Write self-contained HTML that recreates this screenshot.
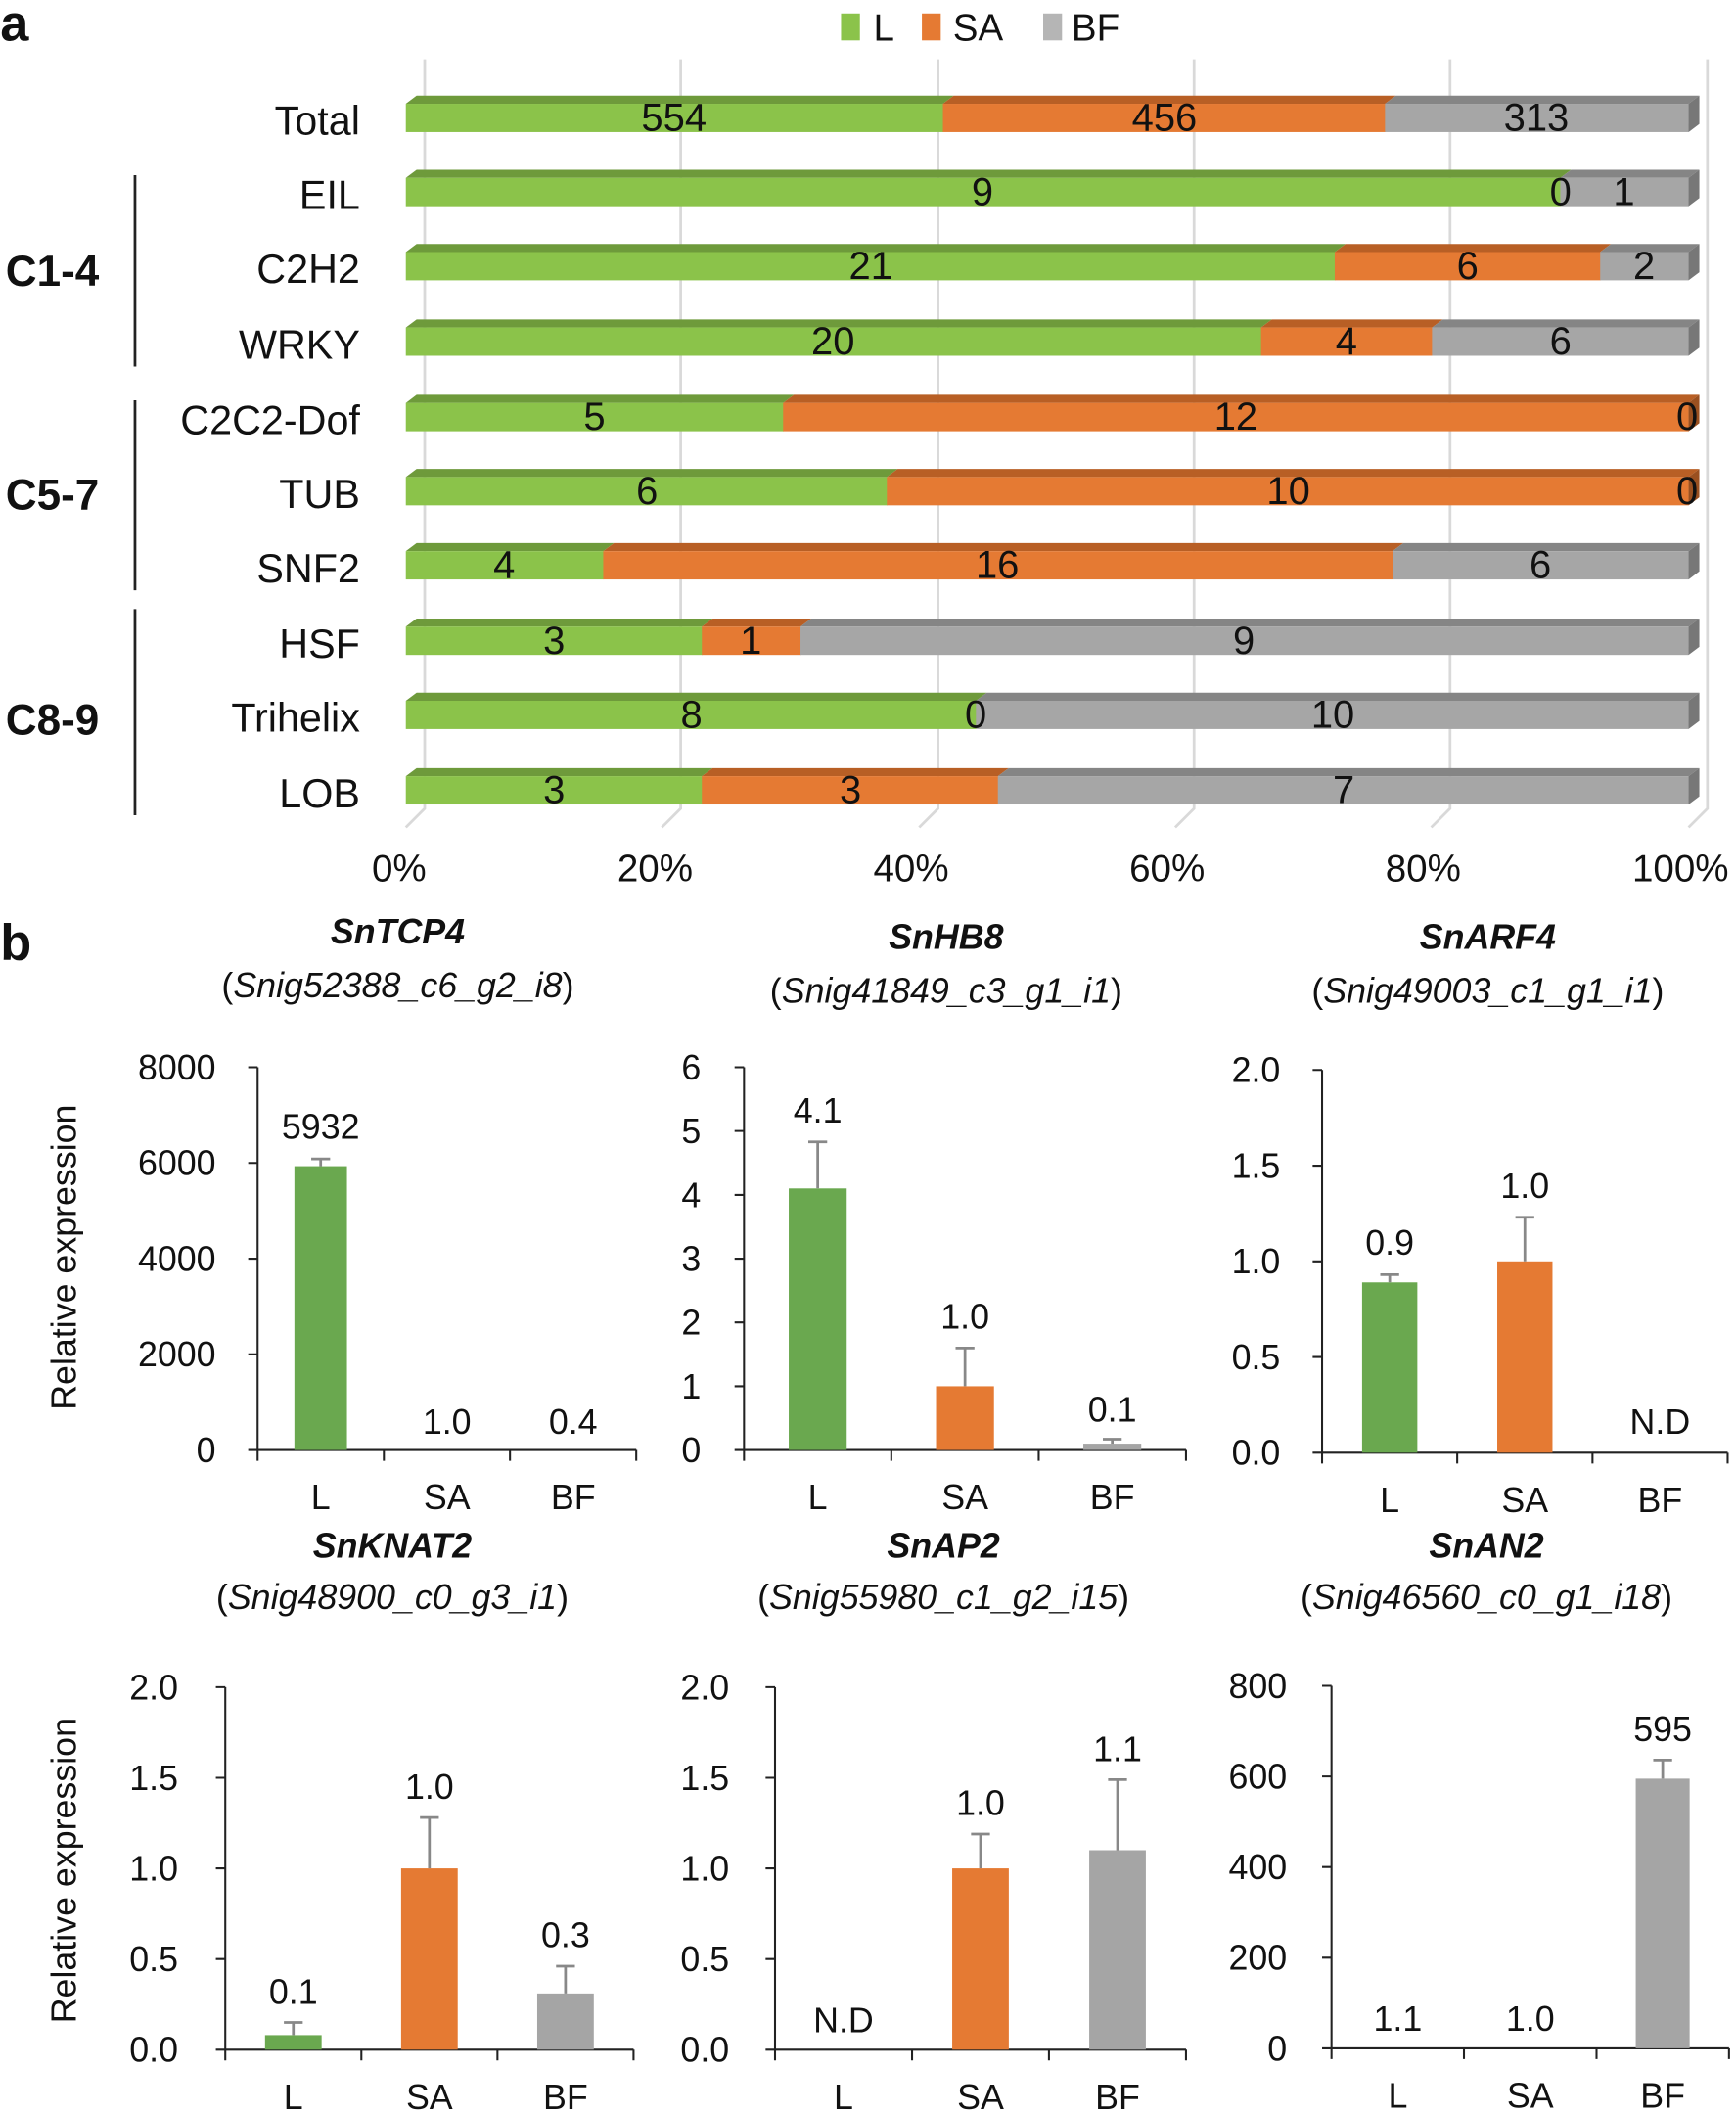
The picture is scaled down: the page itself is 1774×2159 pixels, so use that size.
<!DOCTYPE html>
<html><head><meta charset="utf-8"><style>
html,body{margin:0;padding:0;background:#fff}
svg{display:block}
text{font-family:"Liberation Sans",Arial,sans-serif;fill:#111}
</style></head><body>
<svg width="1774" height="2159" viewBox="0 0 1288 1568" xmlns="http://www.w3.org/2000/svg">
<text x="0" y="30" font-size="38" font-weight="bold">a</text>
<rect x="624" y="10" width="14" height="20" fill="#8bc34a"/><text x="648" y="30" font-size="28">L</text>
<rect x="684" y="10" width="14" height="20" fill="#e57a33"/><text x="707" y="30" font-size="28">SA</text>
<rect x="774" y="10" width="14" height="20" fill="#b5b5b5"/><text x="795" y="30" font-size="28">BF</text>
<g stroke="#d9d9d9" stroke-width="2" fill="none">
<path d="M315,44V600L301,614"/><path d="M505,44V600L491,614"/><path d="M696,44V600L682,614"/><path d="M886,44V600L872,614"/><path d="M1076,44V600L1062,614"/><path d="M1267,44V600L1253,614"/>
</g>
<g font-size="28" text-anchor="middle">
<text x="296" y="654">0%</text><text x="486" y="654">20%</text><text x="676" y="654">40%</text><text x="866" y="654">60%</text><text x="1056" y="654">80%</text><text x="1247" y="654">100%</text>
</g>

<defs>
<polygon id="cap" points="0,0 8,-6 8,15 0,21" fill="#777"/>
</defs>
<g font-size="29" text-anchor="middle">
<g transform="translate(0,77)">
<polygon points="301,0 309,-6 707.6,-6 699.6,0" fill="#6e9a3b"/><rect x="301" y="0" width="399" height="21" fill="#8bc34a"/>
<polygon points="699.6,0 707.6,-6 1035.7,-6 1027.7,0" fill="#b85f25"/><rect x="699.6" y="0" width="328.6" height="21" fill="#e57a33"/>
<polygon points="1027.7,0 1035.7,-6 1261,-6 1253,0" fill="#858585"/><rect x="1027.7" y="0" width="225.3" height="21" fill="#a6a6a6"/>
<use href="#cap" x="1253"/>
<text x="500" y="20">554</text><text x="864" y="20">456</text><text x="1140" y="20">313</text>
</g>
<g transform="translate(0,132)">
<polygon points="301,0 309,-6 1165.8,-6 1157.8,0" fill="#6e9a3b"/><rect x="301" y="0" width="857.3" height="21" fill="#8bc34a"/>
<polygon points="1157.8,0 1165.8,-6 1261,-6 1253,0" fill="#858585"/><rect x="1157.8" y="0" width="95.2" height="21" fill="#a6a6a6"/>
<use href="#cap" x="1253"/>
<text x="729" y="20">9</text><text x="1158" y="20">0</text><text x="1205" y="20">1</text>
</g>
<g transform="translate(0,187)">
<polygon points="301,0 309,-6 998.4,-6 990.4,0" fill="#6e9a3b"/><rect x="301" y="0" width="689.9" height="21" fill="#8bc34a"/>
<polygon points="990.4,0 998.4,-6 1195.4,-6 1187.4,0" fill="#b85f25"/><rect x="990.4" y="0" width="197.5" height="21" fill="#e57a33"/>
<polygon points="1187.4,0 1195.4,-6 1261,-6 1253,0" fill="#858585"/><rect x="1187.4" y="0" width="65.6" height="21" fill="#a6a6a6"/>
<use href="#cap" x="1253"/>
<text x="646" y="20">21</text><text x="1089" y="20">6</text><text x="1220" y="20">2</text>
</g>
<g transform="translate(0,243)">
<polygon points="301,0 309,-6 943.7,-6 935.7,0" fill="#6e9a3b"/><rect x="301" y="0" width="635.2" height="21" fill="#8bc34a"/>
<polygon points="935.7,0 943.7,-6 1070.6,-6 1062.6,0" fill="#b85f25"/><rect x="935.7" y="0" width="127.4" height="21" fill="#e57a33"/>
<polygon points="1062.6,0 1070.6,-6 1261,-6 1253,0" fill="#858585"/><rect x="1062.6" y="0" width="190.4" height="21" fill="#a6a6a6"/>
<use href="#cap" x="1253"/>
<text x="618" y="20">20</text><text x="999" y="20">4</text><text x="1158" y="20">6</text>
</g>
<g transform="translate(0,299)">
<polygon points="301,0 309,-6 589,-6 581,0" fill="#6e9a3b"/><rect x="301" y="0" width="280.5" height="21" fill="#8bc34a"/>
<polygon points="581,0 589,-6 1261,-6 1253,0" fill="#b85f25"/><rect x="581" y="0" width="672" height="21" fill="#e57a33"/>
<polygon points="1253,0 1261,-6 1261,15 1253,21" fill="#9a5020"/>
<text x="441" y="20">5</text><text x="917" y="20">12</text><text x="1252" y="20">0</text>
</g>
<g transform="translate(0,354)">
<polygon points="301,0 309,-6 666,-6 658,0" fill="#6e9a3b"/><rect x="301" y="0" width="357.5" height="21" fill="#8bc34a"/>
<polygon points="658,0 666,-6 1261,-6 1253,0" fill="#b85f25"/><rect x="658" y="0" width="595" height="21" fill="#e57a33"/>
<polygon points="1253,0 1261,-6 1261,15 1253,21" fill="#9a5020"/>
<text x="480" y="20">6</text><text x="956" y="20">10</text><text x="1252" y="20">0</text>
</g>
<g transform="translate(0,409)">
<polygon points="301,0 309,-6 455.5,-6 447.5,0" fill="#6e9a3b"/><rect x="301" y="0" width="147" height="21" fill="#8bc34a"/>
<polygon points="447.5,0 455.5,-6 1041.3,-6 1033.3,0" fill="#b85f25"/><rect x="447.5" y="0" width="586.3" height="21" fill="#e57a33"/>
<polygon points="1033.3,0 1041.3,-6 1261,-6 1253,0" fill="#858585"/><rect x="1033.3" y="0" width="219.7" height="21" fill="#a6a6a6"/>
<use href="#cap" x="1253"/>
<text x="374" y="20">4</text><text x="740" y="20">16</text><text x="1143" y="20">6</text>
</g>
<g transform="translate(0,465)">
<polygon points="301,0 309,-6 528.7,-6 520.7,0" fill="#6e9a3b"/><rect x="301" y="0" width="220.2" height="21" fill="#8bc34a"/>
<polygon points="520.7,0 528.7,-6 601.9,-6 593.9,0" fill="#b85f25"/><rect x="520.7" y="0" width="73.7" height="21" fill="#e57a33"/>
<polygon points="593.9,0 601.9,-6 1261,-6 1253,0" fill="#858585"/><rect x="593.9" y="0" width="659.1" height="21" fill="#a6a6a6"/>
<use href="#cap" x="1253"/>
<text x="411" y="20">3</text><text x="557" y="20">1</text><text x="923" y="20">9</text>
</g>
<g transform="translate(0,520)">
<polygon points="301,0 309,-6 732.1,-6 724.1,0" fill="#6e9a3b"/><rect x="301" y="0" width="423.6" height="21" fill="#8bc34a"/>
<polygon points="724.1,0 732.1,-6 1261,-6 1253,0" fill="#858585"/><rect x="724.1" y="0" width="528.9" height="21" fill="#a6a6a6"/>
<use href="#cap" x="1253"/>
<text x="513" y="20">8</text><text x="724" y="20">0</text><text x="989" y="20">10</text>
</g>
<g transform="translate(0,576)">
<polygon points="301,0 309,-6 528.7,-6 520.7,0" fill="#6e9a3b"/><rect x="301" y="0" width="220.2" height="21" fill="#8bc34a"/>
<polygon points="520.7,0 528.7,-6 748.4,-6 740.4,0" fill="#b85f25"/><rect x="520.7" y="0" width="220.2" height="21" fill="#e57a33"/>
<polygon points="740.4,0 748.4,-6 1261,-6 1253,0" fill="#858585"/><rect x="740.4" y="0" width="512.6" height="21" fill="#a6a6a6"/>
<use href="#cap" x="1253"/>
<text x="411" y="20">3</text><text x="631" y="20">3</text><text x="997" y="20">7</text>
</g>
</g>

<g font-size="30" text-anchor="end">
<text x="267" y="100">Total</text><text x="267" y="155">EIL</text><text x="267" y="210">C2H2</text><text x="267" y="266">WRKY</text><text x="267" y="322">C2C2-Dof</text><text x="267" y="377">TUB</text><text x="267" y="432">SNF2</text><text x="267" y="488">HSF</text><text x="267" y="543">Trihelix</text><text x="267" y="599">LOB</text>
</g>
<g font-size="32" font-weight="bold"><text x="4" y="212">C1-4</text><text x="4" y="378">C5-7</text><text x="4" y="545">C8-9</text></g>
<g stroke="#222" stroke-width="2"><line x1="100" y1="130" x2="100" y2="272"/><line x1="100" y1="297" x2="100" y2="438"/><line x1="100" y1="452" x2="100" y2="605"/></g>

<text x="0" y="712" font-size="38" font-weight="bold">b</text>
<g font-size="26" text-anchor="middle">
<text x="295" y="700" font-weight="bold" font-style="italic">SnTCP4</text>
<text x="295" y="740">(<tspan font-style="italic">Snig52388_c6_g2_i8</tspan>)</text>
<text x="702" y="704" font-weight="bold" font-style="italic">SnHB8</text>
<text x="702" y="744">(<tspan font-style="italic">Snig41849_c3_g1_i1</tspan>)</text>
<text x="1104" y="704" font-weight="bold" font-style="italic">SnARF4</text>
<text x="1104" y="744">(<tspan font-style="italic">Snig49003_c1_g1_i1</tspan>)</text>
<text x="291" y="1156" font-weight="bold" font-style="italic">SnKNAT2</text>
<text x="291" y="1194">(<tspan font-style="italic">Snig48900_c0_g3_i1</tspan>)</text>
<text x="700" y="1156" font-weight="bold" font-style="italic">SnAP2</text>
<text x="700" y="1194">(<tspan font-style="italic">Snig55980_c1_g2_i15</tspan>)</text>
<text x="1103" y="1156" font-weight="bold" font-style="italic">SnAN2</text>
<text x="1103" y="1194">(<tspan font-style="italic">Snig46560_c0_g1_i18</tspan>)</text>
</g>
<text transform="translate(56,933) rotate(-90)" font-size="26" text-anchor="middle">Relative expression</text>
<text transform="translate(56,1388) rotate(-90)" font-size="26" text-anchor="middle">Relative expression</text>

<g stroke="#222" stroke-width="1.5" fill="none">
<path d="M191,792V1084M191,1076H472M284.7,1076v8M378.3,1076v8M472,1076v8M184,1076h7M184,1005h7M184,934h7M184,863h7M184,792h7"/>
<path d="M552,792V1084M552,1076H880M661.3,1076v8M770.7,1076v8M880,1076v8M545,1076h7M545,1028.7h7M545,981.3h7M545,934h7M545,886.7h7M545,839.3h7M545,792h7"/>
<path d="M981,794V1086M981,1078H1282M1081.3,1078v8M1181.7,1078v8M1282,1078v8M974,1078h7M974,1007h7M974,936h7M974,865h7M974,794h7"/>
<path d="M167,1252V1529M167,1521H470M268,1521v8M369,1521v8M470,1521v8M160,1521h7M160,1453.75h7M160,1386.5h7M160,1319.25h7M160,1252h7"/>
<path d="M575,1252V1529M575,1521H880M676.7,1521v8M778.3,1521v8M880,1521v8M568,1521h7M568,1453.75h7M568,1386.5h7M568,1319.25h7M568,1252h7"/>
<path d="M988,1251V1528M988,1520H1283M1086.3,1520v8M1184.7,1520v8M1283,1520v8M981,1520h7M981,1452.75h7M981,1385.5h7M981,1318.25h7M981,1251h7"/>
</g>

<g font-size="26" text-anchor="end">
<text x="160" y="1085">0</text><text x="160" y="1014">2000</text><text x="160" y="943">4000</text><text x="160" y="872">6000</text><text x="160" y="801">8000</text>
<text x="520" y="1085">0</text><text x="520" y="1037.7">1</text><text x="520" y="990.3">2</text><text x="520" y="943">3</text><text x="520" y="895.7">4</text><text x="520" y="848.3">5</text><text x="520" y="801">6</text>
<text x="950" y="1087">0.0</text><text x="950" y="1016">0.5</text><text x="950" y="945">1.0</text><text x="950" y="874">1.5</text><text x="950" y="803">2.0</text>
<text x="132" y="1530">0.0</text><text x="132" y="1462.75">0.5</text><text x="132" y="1395.5">1.0</text><text x="132" y="1328.25">1.5</text><text x="132" y="1261">2.0</text>
<text x="541" y="1530">0.0</text><text x="541" y="1462.75">0.5</text><text x="541" y="1395.5">1.0</text><text x="541" y="1328.25">1.5</text><text x="541" y="1261">2.0</text>
<text x="955" y="1529">0</text><text x="955" y="1461.75">200</text><text x="955" y="1394.5">400</text><text x="955" y="1327.25">600</text><text x="955" y="1260">800</text>
</g>

<g font-size="26" text-anchor="middle">
<text x="237.8" y="1120">L</text><text x="331.5" y="1120">SA</text><text x="425.2" y="1120">BF</text>
<text x="606.7" y="1120">L</text><text x="716" y="1120">SA</text><text x="825.3" y="1120">BF</text>
<text x="1031.2" y="1122">L</text><text x="1131.5" y="1122">SA</text><text x="1231.8" y="1122">BF</text>
<text x="217.5" y="1565">L</text><text x="318.5" y="1565">SA</text><text x="419.5" y="1565">BF</text>
<text x="625.8" y="1565">L</text><text x="727.5" y="1565">SA</text><text x="829.2" y="1565">BF</text>
<text x="1037.2" y="1564">L</text><text x="1135.5" y="1564">SA</text><text x="1233.8" y="1564">BF</text>
</g>

<rect x="218.3" y="865.4" width="39" height="210.6" fill="#6aa84f"/>
<rect x="585.2" y="881.9" width="43" height="194.1" fill="#6aa84f"/>
<rect x="694.5" y="1028.7" width="43" height="47.3" fill="#e57a33"/>
<rect x="803.8" y="1071.3" width="43" height="4.7" fill="#a5a5a5"/>
<rect x="1010.7" y="951.6" width="41" height="126.4" fill="#6aa84f"/>
<rect x="1111" y="936" width="41" height="142" fill="#e57a33"/>
<rect x="196.5" y="1510.2" width="42" height="10.8" fill="#6aa84f"/>
<rect x="297.5" y="1386.5" width="42" height="134.5" fill="#e57a33"/>
<rect x="398.5" y="1479.3" width="42" height="41.7" fill="#a5a5a5"/>
<rect x="706.5" y="1386.5" width="42" height="134.5" fill="#e57a33"/>
<rect x="808.2" y="1373" width="42" height="148" fill="#a5a5a5"/>
<rect x="1213.8" y="1319.9" width="40" height="200.1" fill="#a5a5a5"/>

<g stroke="#888" stroke-width="2" fill="none">
<path d="M237.8,865.4V860M230.8,860h14"/>
<path d="M606.7,881.9V847.4M599.7,847.4h14"/>
<path d="M716,1028.7V1000.3M709,1000.3h14"/>
<path d="M825.3,1071.3V1068M818.3,1068h14"/>
<path d="M1031.2,951.6V945.9M1024.2,945.9h14"/>
<path d="M1131.5,936V903.3M1124.5,903.3h14"/>
<path d="M217.5,1510.2V1500.8M210.5,1500.8h14"/>
<path d="M318.5,1386.5V1348.8M311.5,1348.8h14"/>
<path d="M419.5,1479.3V1459.1M412.5,1459.1h14"/>
<path d="M727.5,1386.5V1361M720.5,1361h14"/>
<path d="M829.2,1373V1320.6M822.2,1320.6h14"/>
<path d="M1233.8,1319.9V1306.1M1226.8,1306.1h14"/>
</g>

<g font-size="26" text-anchor="middle">
<text x="237.8" y="845">5932</text><text x="331.5" y="1064">1.0</text><text x="425.2" y="1064">0.4</text>
<text x="606.7" y="833">4.1</text><text x="716" y="986">1.0</text><text x="825.3" y="1055">0.1</text>
<text x="1031.2" y="931">0.9</text><text x="1131.5" y="889">1.0</text><text x="1231.8" y="1064">N.D</text>
<text x="217.5" y="1487">0.1</text><text x="318.5" y="1335">1.0</text><text x="419.5" y="1445">0.3</text>
<text x="625.8" y="1508">N.D</text><text x="727.5" y="1347">1.0</text><text x="829.2" y="1307">1.1</text>
<text x="1037.2" y="1507">1.1</text><text x="1135.5" y="1507">1.0</text><text x="1233.8" y="1292">595</text>
</g>
</svg>
</body></html>
